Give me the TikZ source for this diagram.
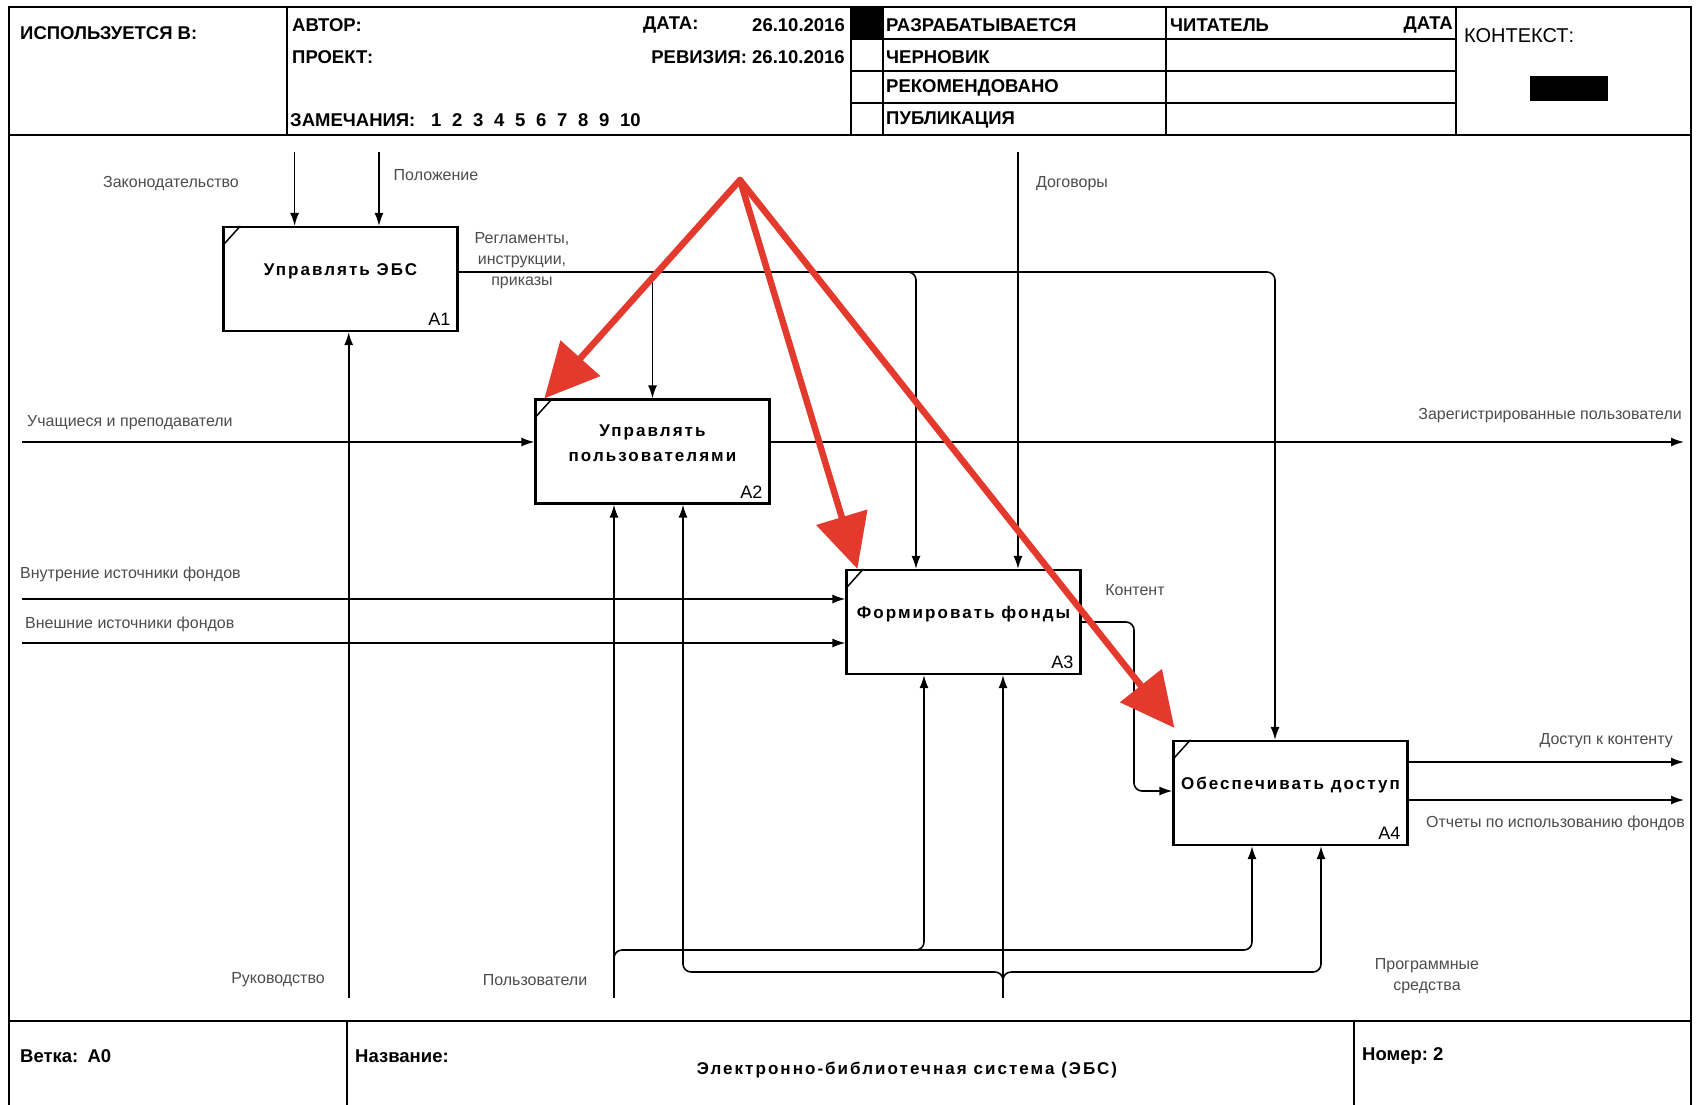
\documentclass[tikz,border=0pt]{standalone}
\usepackage{fontspec}
\setmainfont{Liberation Sans}
\newfontfamily\boxfont[LetterSpace=12]{Liberation Sans}
\usetikzlibrary{arrows.meta,calc}

\definecolor{markred}{RGB}{228,58,46}

\tikzset{
  func/.style={draw, line width=2.2pt, minimum width=234pt, minimum height=104pt, inner sep=0pt},
  ftext/.style={font=\boxfont\bfseries\fontsize{17}{25}\selectfont, align=center, inner sep=0pt},
  fnum/.style={font=\fontsize{18}{20}\selectfont, anchor=south east, inner sep=0pt},
  lbl/.style={font=\fontsize{16}{21}\selectfont, text=black!70, inner sep=0pt, align=center},
  hdr/.style={font=\bfseries\fontsize{18.5}{22}\selectfont, inner sep=0pt},
  arr/.style={line width=1.6pt, -{Latex[length=13pt,width=9pt]}},
  redarrow/.style={draw=markred, line width=6.5pt, line cap=round, -{Triangle[length=54pt,width=52pt]}},
}

\begin{document}
\begin{tikzpicture}[x=1pt,y=-1pt]
    \useasboundingbox (0,0) rectangle (1698,1104);

    % frame and form
    \draw[line width=2pt] (9,7) rectangle (1691,1130);
    \draw[line width=2pt] (9,135) -- (1691,135);
    \draw[line width=2pt] (9,1021) -- (1691,1021);
    \foreach \x in {287,851,883,1166,1456}
        \draw[line width=1.5pt] (\x,7) -- (\x,135);
    \foreach \y in {39,71,103}
        \draw[line width=1.5pt] (851,\y) -- (1456,\y);
    \foreach \x in {347,1354}
        \draw[line width=1.5pt] (\x,1021) -- (\x,1130);
    \fill (851,7) rectangle (883,39);
    \fill (1530,76) rectangle (1608,101);

    % header
    \node[hdr, anchor=west] (used) at (20,33) {ИСПОЛЬЗУЕТСЯ В:};
    \node[hdr, anchor=west] (author) at (292,25) {АВТОР:};
    \node[hdr, anchor=west] (proj) at (292,57) {ПРОЕКТ:};
    \node[hdr, anchor=west] (rem) at (290,120) {ЗАМЕЧАНИЯ:};
    \foreach \n [count=\i] in {1,...,10}
        \node[hdr, anchor=west] (rem\n) at (431+21*\i-21,120) {\n};
    \node[hdr, anchor=west] (date) at (643,25) {ДАТА:};
    \node[hdr, anchor=east] (dateval) at (845,25) {26.10.2016};
    \node[hdr, anchor=east] (rev) at (845,57) {РЕВИЗИЯ: 26.10.2016};
    \node[hdr, anchor=west] (st1) at (886,25) {РАЗРАБАТЫВАЕТСЯ};
    \node[hdr, anchor=west] (st2) at (886,57) {ЧЕРНОВИК};
    \node[hdr, anchor=west] (st3) at (886,88) {РЕКОМЕНДОВАНО};
    \node[hdr, anchor=west] (st4) at (886,120) {ПУБЛИКАЦИЯ};
    \node[hdr, anchor=west] (reader) at (1170,25) {ЧИТАТЕЛЬ};
    \node[hdr, anchor=east] (rdate) at (1453,25) {ДАТА};
    \node[font=\fontsize{20}{24}\selectfont, anchor=west, inner sep=0pt] (ctx) at (1464,36) {КОНТЕКСТ:};

    % footer
    \node[hdr, anchor=west] (branch) at (20,1056) {Ветка:\enspace A0};
    \node[hdr, anchor=west] (title) at (355,1056) {Название:};
    \node[ftext] (name) at (907,1070) {Электронно-библиотечная система (ЭБС)};
    \node[hdr, anchor=west] (number) at (1362,1056) {Номер:\ 2};

    % functions
    \node[func] (A1) at (340.5,279) {};
    \node[func] (A2) at (652.5,451.5) {};
    \node[func] (A3) at (963.5,622) {};
    \node[func] (A4) at (1290.5,793) {};
    \node[ftext] (A1t) at ([yshift=8pt]A1.center) {Управлять ЭБС};
    \node[ftext] (A2t) at ([yshift=8pt]A2.center) {Управлять\\пользователями};
    \node[ftext] (A3t) at ([yshift=8pt]A3.center) {Формировать фонды};
    \node[ftext] (A4t) at ([yshift=8pt]A4.center) {Обеспечивать доступ};
    \foreach \b in {A1,A2,A3,A4} {
        \draw[line width=1.5pt] ([yshift=-20pt]\b.north west) -- ([xshift=18pt]\b.north west);
        \node[fnum] (num\b) at ([shift={(-8pt,6pt)}]\b.south east) {\b};
    }

    % free ends
    \coordinate (zak) at (294.6,152);
    \coordinate (pol) at (379,152);
    \coordinate (dog) at (1018,152);
    \coordinate (ruk) at (348.7,998);
    \coordinate (usr) at (614,998);
    \coordinate (prg) at (1003,998);
    \coordinate (uch) at (22,442);
    \coordinate (reg) at (1684,442);
    \coordinate (vnut) at (22,599);
    \coordinate (vnesh) at (22,643);
    \coordinate (dost) at (1684,762);
    \coordinate (otch) at (1684,800);

    % arrows
    \draw[arr] (zak) -- (zak |- A1.north);
    \draw[arr] (pol) -- (pol |- A1.north);
    \draw[arr] (ruk) -- (ruk |- A1.south);
    \draw[arr] (uch) -- (uch -| A2.west);
    \draw[arr] (uch -| A2.east) -- (reg);
    \draw[arr] (vnut) -- (vnut -| A3.west);
    \draw[arr] (vnesh) -- (vnesh -| A3.west);
    \draw[arr] (dog) -- (dog |- A3.north);
    \draw[arr] (dost -| A4.east) -- (dost);
    \draw[arr] (otch -| A4.east) -- (otch);

    \coordinate (rg) at ([yshift=7pt]A1.east);
    \coordinate (c3) at (916,272);
    \coordinate (c4) at (1275,272);
    \draw[arr, rounded corners=8pt] (rg) -- (c4) -- (c4 |- A4.north);
    \draw[arr] (rg -| A2.north) -- (A2.north);
    \draw[arr, rounded corners=8pt] ([xshift=-16pt]c3) -- (c3) -- (c3 |- A3.north);

    \coordinate (k1) at (1134,622);
    \draw[arr, rounded corners=8pt] (A3.east) -- (k1) |- ([yshift=2pt]A4.west);

    \coordinate (u1) at (614,950);
    \coordinate (u3) at (924,950);
    \coordinate (u4) at (1252,950);
    \draw[arr] (usr) -- (usr |- A2.south);
    \draw[arr, rounded corners=8pt] ([yshift=-14pt]u1) -- (u1) -- (u4) -- (u4 |- A4.south);
    \draw[arr, rounded corners=8pt] ([xshift=-16pt]u3) -- (u3) -- (u3 |- A3.south);

    \coordinate (p0) at (1003,972);
    \coordinate (p2) at (683,972);
    \coordinate (p4) at (1321,972);
    \draw[arr] (prg) -- (prg |- A3.south);
    \draw[arr, rounded corners=8pt] ([yshift=-14pt]p0) -- (p0) -- (p2) -- (p2 |- A2.south);
    \draw[arr, rounded corners=8pt] ([yshift=-14pt]p0) -- (p0) -- (p4) -- (p4 |- A4.south);

    % arrow labels
    \node[lbl] (lzak) at (171,184) {Законодательство};
    \node[lbl] (lpol) at (436,175) {Положение};
    \node[lbl] (lrgl) at (522,261) {Регламенты,\\инструкции,\\приказы};
    \node[lbl] (ldog) at (1072,184) {Договоры};
    \node[lbl, anchor=west] (luch) at (27,423) {Учащиеся и преподаватели};
    \node[lbl, anchor=east] (lreg) at (1682,416) {Зарегистрированные пользователи};
    \node[lbl, anchor=west] (lvnut) at (20,574) {Внутрение источники фондов};
    \node[lbl, anchor=west] (lvnesh) at (25,624) {Внешние источники фондов};
    \node[lbl] (lkont) at (1135,590) {Контент};
    \node[lbl, anchor=east] (ldost) at (1673,741) {Доступ к контенту};
    \node[lbl, anchor=west] (lotch) at (1426,823) {Отчеты по использованию фондов};
    \node[lbl] (lruk) at (278,980) {Руководство};
    \node[lbl] (lusr) at (535,980) {Пользователи};
    \node[lbl] (lprg) at (1427,976) {Программные\\средства};

    % red pointers
    \coordinate (hint) at (740,180);
    \draw[redarrow] (hint) -- ([xshift=10pt]A2.north west);
    \draw[redarrow] (hint) -- ([xshift=12pt]A3.north west);
    \draw[redarrow] (hint) -- ([shift={(2pt,12pt)}]A4.north west);
\end{tikzpicture}
\end{document}
